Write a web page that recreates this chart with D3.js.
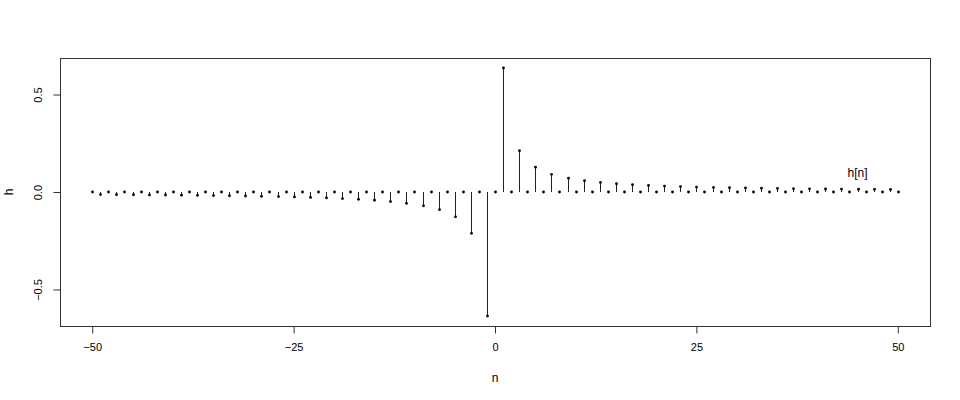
<!DOCTYPE html>
<html><head><meta charset="utf-8">
<script src="https://cdn.jsdelivr.net/npm/d3@7"></script>
<style>body{margin:0;background:#fff}svg{display:block;font-family:"Liberation Sans",Arial,sans-serif}</style>
</head><body>
<script>
const nValues = [-50,-49,-48,-47,-46,-45,-44,-43,-42,-41,-40,-39,-38,-37,-36,-35,-34,-33,-32,-31,-30,-29,-28,-27,-26,-25,-24,-23,-22,-21,-20,-19,-18,-17,-16,-15,-14,-13,-12,-11,-10,-9,-8,-7,-6,-5,-4,-3,-2,-1,0,1,2,3,4,5,6,7,8,9,10,11,12,13,14,15,16,17,18,19,20,21,22,23,24,25,26,27,28,29,30,31,32,33,34,35,36,37,38,39,40,41,42,43,44,45,46,47,48,49,50];
const hValues = [0,-0.0130,0,-0.0135,0,-0.0141,0,-0.0148,0,-0.0155,0,-0.0163,0,-0.0172,0,-0.0182,0,-0.0193,0,-0.0205,0,-0.0220,0,-0.0236,0,-0.0255,0,-0.0277,0,-0.0303,0,-0.0335,0,-0.0374,0,-0.0424,0,-0.0490,0,-0.0579,0,-0.0707,0,-0.0909,0,-0.1273,0,-0.2122,0,-0.6366,
0,
0.6366,0,0.2122,0,0.1273,0,0.0909,0,0.0707,0,0.0579,0,0.0490,0,0.0424,0,0.0374,0,0.0335,0,0.0303,0,0.0277,0,0.0255,0,0.0236,0,0.0220,0,0.0205,0,0.0193,0,0.0182,0,0.0172,0,0.0163,0,0.0155,0,0.0148,0,0.0141,0,0.0135,0,0.0130,0];
const xTicks = [-50,-25,0,25,50];
const yTicks = [-0.5,0.0,0.5];
const labelText = "h[n]";
const labelPos = [45, 0.1];

const W=960,H=400;
const mLeft=60,mRight=930,mTop=58,mBottom=326;
const svg=d3.select("body").append("svg").attr("width",W).attr("height",H);
const x=d3.scaleLinear().domain([-54,54]).range([mLeft,mRight]);
const y=d3.scaleLinear().domain([-0.6875,0.6875]).range([mBottom,mTop]);
const data=nValues.map((n,i)=>({n,h:hValues[i]}));

svg.append("rect").attr("x",mLeft+0.5).attr("y",mTop+0.5).attr("width",mRight-mLeft).attr("height",mBottom-mTop)
  .attr("fill","none").attr("stroke","#333").attr("stroke-width",1);

const xa=svg.append("g").attr("transform",`translate(0,${mBottom+0.5})`)
  .call(d3.axisBottom(x).tickValues(xTicks).tickSize(7).tickPadding(10).tickFormat(d3.format("d")));
xa.select(".domain").remove();
xa.selectAll("line").attr("stroke","#333");
xa.selectAll("text").attr("font-size",11).attr("font-family","Liberation Sans, Arial, sans-serif").attr("fill","#000");

const ya=svg.append("g").attr("transform",`translate(${mLeft+0.5},0)`)
  .call(d3.axisLeft(y).tickValues(yTicks).tickSize(7).tickFormat(d3.format(".1f")));
ya.select(".domain").remove();
ya.selectAll("line").attr("stroke","#333");
ya.selectAll("text").attr("font-size",11).attr("font-family","Liberation Sans, Arial, sans-serif").attr("fill","#000")
  .attr("text-anchor","middle").attr("x",0).attr("dy","0.35em")
  .attr("transform","translate(-22,0) rotate(-90)");

const g=svg.append("g");
g.selectAll("line.stem").data(data).enter().append("line").attr("class","stem")
  .attr("x1",d=>Math.round(x(d.n))+0.5).attr("x2",d=>Math.round(x(d.n))+0.5)
  .attr("y1",y(0)).attr("y2",d=>y(d.h)).attr("stroke","#222").attr("stroke-width",1);
g.selectAll("circle").data(data).enter().append("circle")
  .attr("cx",d=>Math.round(x(d.n))+0.5).attr("cy",d=>y(d.h)).attr("r",1.4).attr("fill","#000");

svg.append("text").attr("x",x(labelPos[0])).attr("y",y(labelPos[1])).attr("dy","0.35em")
  .attr("text-anchor","middle").attr("font-size",12).text(labelText);

svg.append("text").attr("x",(mLeft+mRight)/2).attr("y",382).attr("text-anchor","middle").attr("font-size",12).text("n");
svg.append("text").attr("transform",`translate(13,${(mTop+mBottom)/2}) rotate(-90)`).attr("text-anchor","middle").attr("font-size",12).text("h");
</script>
</body></html>
